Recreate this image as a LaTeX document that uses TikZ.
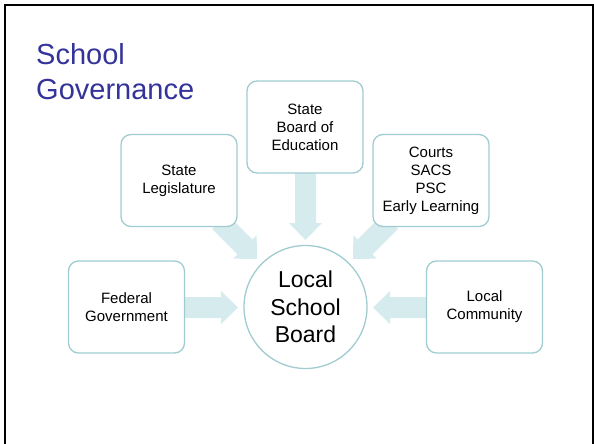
\documentclass[tikz,border=0pt]{standalone}
\usepackage{fontspec}
\setmainfont{Liberation Sans}
\usetikzlibrary{calc}
\definecolor{titleblue}{RGB}{51,51,153}
\definecolor{boxline}{RGB}{160,204,208}
\definecolor{arrowfill}{RGB}{214,235,238}
\newcommand\blockarrow[2]{%
  \path ($(#2)!17pt!(#1)$) coordinate (hb);
  \fill[arrowfill] ($(#1)!10.5pt!90:(#2)$) -- ($(hb)!10.5pt!90:(#2)$) -- ($(hb)!16.5pt!90:(#2)$) -- (#2)
    -- ($(hb)!16.5pt!-90:(#2)$) -- ($(hb)!10.5pt!-90:(#2)$) -- ($(#1)!10.5pt!-90:(#2)$) -- cycle;}
\tikzset{
  govbox/.style={draw=boxline, line width=1.3pt, fill=white, rounded corners=10pt,
    minimum width=116pt, minimum height=92pt, align=center, inner sep=2pt,
    font=\fontsize{15}{18}\selectfont},
  hub/.style={circle, draw=boxline, line width=1.3pt, fill=white, minimum size=123pt,
    align=center, inner sep=0pt, font=\fontsize{23}{27.5}\selectfont},
  titletext/.style={text=titleblue, align=left, inner sep=0pt, font=\fontsize{29}{35}\selectfont},
  frame/.style={line width=2pt, black}
}
\begin{document}
\begin{tikzpicture}[x=1pt,y=-1pt]
\useasboundingbox (0,0) rectangle (594,444);
\draw[frame] (5,444) -- (5,4.8) -- (593,4.8) -- (593,444);
\node[titletext, anchor=north west] (title) at (36,43) {School\\Governance};
% arrow coordinates
\coordinate (fedS) at (185,307.5);   \coordinate (fedT) at (238,307.5);
\coordinate (lcS) at (426,307.5);    \coordinate (lcT) at (373,307.5);
\coordinate (sbeS) at (305.5,170);   \coordinate (sbeT) at (305.5,240);
\coordinate (legS) at (219.5,221.5); \coordinate (legT) at (257,259);
\coordinate (crtS) at (390.5,221.5); \coordinate (crtT) at (353,259);
\blockarrow{fedS}{fedT}
\blockarrow{lcS}{lcT}
\blockarrow{sbeS}{sbeT}
\blockarrow{legS}{legT}
\blockarrow{crtS}{crtT}
% boxes
\node[govbox] (leg) at (179,180.5) {State\\Legislature};
\node[govbox] (sbe) at (305,127) {State\\Board of\\Education};
\node[govbox] (crt) at (431,180.5) {Courts\\SACS\\PSC\\Early Learning};
\node[govbox] (fed) at (126.5,307) {Federal\\Government};
\node[govbox] (lc) at (484.5,307) {Local\\Community};
\node[hub] (lsb) at (305.5,307) {Local\\School\\Board};
\end{tikzpicture}
\end{document}
